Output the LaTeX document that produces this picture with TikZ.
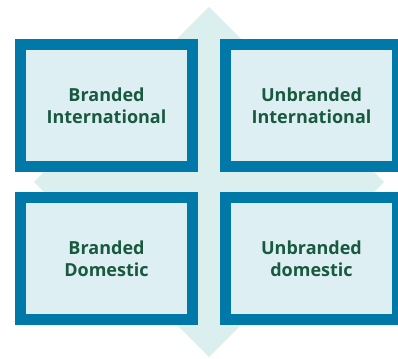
\documentclass[tikz,border=0pt]{standalone}
\usepackage{fontspec}
\setmainfont{Open Sans}
\usepackage{xcolor}
\usetikzlibrary{positioning}
\definecolor{boxblue}{HTML}{0079A8}
\definecolor{boxfill}{HTML}{DDEFF2}
\definecolor{diamfill}{HTML}{DCEFEF}
\definecolor{txtgreen}{HTML}{18593F}

\begin{document}
\begin{tikzpicture}[x=1pt,y=1pt,
  quad/.style={draw=boxblue,fill=boxfill,line width=11pt,inner sep=0pt,
    minimum width=172pt,minimum height=122pt,align=center,
    text=txtgreen,font=\fontsize{18}{22}\selectfont\bfseries}]

\useasboundingbox (0,0) rectangle (398,358);

% background diamond
\fill[diamfill] (209,351) -- (384,176) -- (209,1) -- (34,176) -- cycle;

\node[quad](bi) at (106.5,252.5) {Branded\\International};
\node[quad,right=22pt of bi](ui) {Unbranded\\International};
\node[quad,below=20pt of bi](bd) {Branded\\Domestic};
\node[quad,below=20pt of ui](ud) {Unbranded\\domestic};

\end{tikzpicture}
\end{document}
